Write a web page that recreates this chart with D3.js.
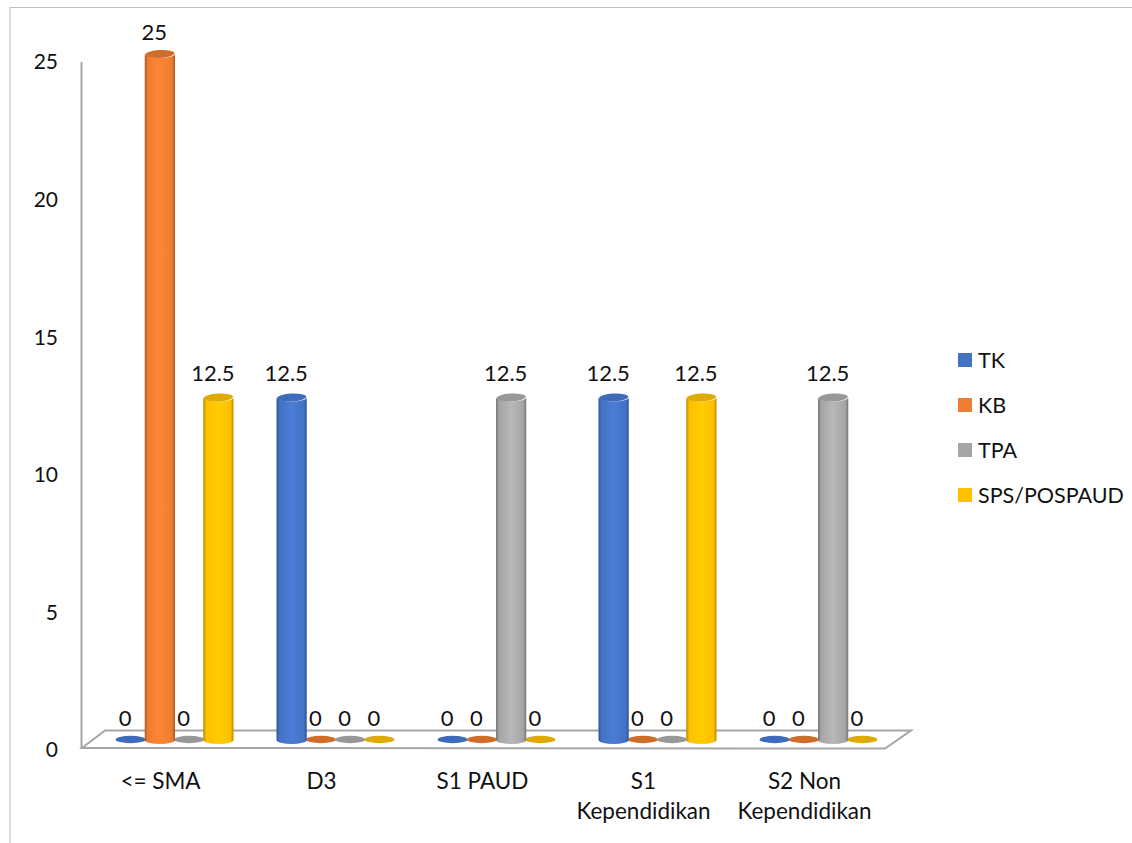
<!DOCTYPE html>
<html><head><meta charset="utf-8">
<script src="https://cdnjs.cloudflare.com/ajax/libs/d3/7.8.5/d3.min.js"></script>
<style>html,body{margin:0;padding:0;background:#fff}svg{display:block}text{font-family:Lato,"Noto Sans",sans-serif;fill:#111}</style>
</head><body><svg id="c" width="1132" height="843"></svg>
<script>
const categories=[["<= SMA"],["D3"],["S1 PAUD"],["S1","Kependidikan"],["S2 Non","Kependidikan"]];
const seriesNames=["TK","KB","TPA","SPS/POSPAUD"];
const TK=[0,12.5,0,12.5,0];
const KB=[25,0,0,0,0];
const TPA=[0,0,12.5,0,12.5];
const SPS=[12.5,0,0,12.5,0];
const yTicks=[0,5,10,15,20,25];
const seriesValues=[TK,KB,TPA,SPS];
const colors=["#4472c4","#ed7d31","#a5a5a5","#ffc000"];
const lights=["#4a7dd6","#ff8633","#b8b8b8","#ffcc00"];
const darks=["#2f5597","#a9581f","#757575","#b88a00"];
const tops=["#3f6bbb","#cf6d2b","#989898","#e0aa05"];

const svg=d3.select("#c");
const defs=svg.append("defs");
colors.forEach((c,i)=>{
  const g=defs.append("linearGradient").attr("id","g"+i);
  [[0,darks[i]],[.1,c],[.5,lights[i]],[.9,c],[1,darks[i]]].forEach(([o,k])=>g.append("stop").attr("offset",o).attr("stop-color",k));
});
const x0=d3.scaleBand().domain(d3.range(categories.length)).range([80,885]);
const x1=d3.scaleBand().domain(d3.range(seriesNames.length)).range([36,153]);
const y=d3.scaleLinear().domain([0,25]).range([741,54]);
const yLab=d3.scaleLinear().domain([0,25]).range([750,62]);

svg.append("path").attr("d","M10,843V7.5H1132").attr("fill","none").attr("stroke","#bfbfbf").attr("stroke-width",1);

const floor=[[82,748],[105,730.5],[911,730.5],[885,748.5]];
svg.append("polygon").attr("points",floor.join(" ")).attr("fill","#fff").attr("stroke","#a6a6a6").attr("stroke-width",2);
svg.append("line").attr("x1",81.5).attr("x2",81.5).attr("y1",62).attr("y2",748).attr("stroke","#a6a6a6").attr("stroke-width",2);

svg.append("g").selectAll("text").data(yTicks).join("text")
  .attr("x",58).attr("y",d=>yLab(d)).attr("dy","0.35em").attr("text-anchor","end").attr("font-size",21).text(d=>d);

const rx=x1.bandwidth()/2+0.5, ry=4;
seriesNames.forEach((s,i)=>{
  const g=svg.append("g");
  const cx=k=>x0(k)+x1(i)+x1.bandwidth()/2;
  const vals=seriesValues[i];
  const idx=d3.range(vals.length);
  g.selectAll("ellipse.flat").data(idx.filter(k=>vals[k]===0)).join("ellipse").attr("class","flat")
    .attr("cx",cx).attr("cy",y(0)-1.5).attr("rx",rx).attr("ry",3.7).attr("fill",tops[i]);
});
seriesNames.forEach((s,i)=>{
  const g=svg.append("g");
  const cx=k=>x0(k)+x1(i)+x1.bandwidth()/2;
  const vals=seriesValues[i];
  const idx=d3.range(vals.length);
  g.selectAll("path.cyl").data(idx.filter(k=>vals[k]>0)).join("path").attr("class","cyl")
    .attr("d",k=>{const t=y(vals[k]),b=y(0)-1,c=cx(k);
      return `M${c-rx},${t}V${b}A${rx},${ry} 0 0 0 ${c+rx},${b}V${t}A${rx},${ry} 0 0 1 ${c-rx},${t}Z`;})
    .attr("fill",`url(#g${i})`);
  g.selectAll("ellipse.top").data(idx.filter(k=>vals[k]>0)).join("ellipse").attr("class","top")
    .attr("cx",cx).attr("cy",k=>y(vals[k])).attr("rx",rx-.5).attr("ry",ry)
    .attr("transform",k=>`rotate(-3 ${cx(k)} ${y(vals[k])})`).attr("fill",tops[i]);
});
seriesNames.forEach((s,i)=>{
  const vals=seriesValues[i];
  svg.append("g").selectAll("text").data(vals.map((v,k)=>({v,k}))).join("text")
    .attr("x",d=>x0(d.k)+x1(i)+x1.bandwidth()/2-5.5)
    .attr("y",d=>d.v===25?32:y(d.v)-24+(d.v===0?1:0))
    .attr("dy","0.35em").attr("text-anchor","middle").attr("font-size",22).text(d=>d.v);
});
const catG=svg.append("g").selectAll("text").data(categories).join("text")
  .attr("text-anchor","middle").attr("font-size",22.5);
catG.each(function(lines,k){
  d3.select(this).selectAll("tspan").data(lines).join("tspan")
    .attr("x",x0(k)+x0.bandwidth()/2).attr("y",(d,j)=>789+j*30).text(d=>d);
});
const leg=d3.scalePoint().domain(seriesNames).range([360,495]);
const lg=svg.append("g").selectAll("g").data(seriesNames).join("g");
lg.append("rect").attr("x",958).attr("y",d=>leg(d)-7).attr("width",14).attr("height",14).attr("fill",(d,i)=>colors[i]);
lg.append("text").attr("x",978).attr("y",d=>leg(d)).attr("dy","0.35em").attr("font-size",21.5).text(d=>d);
</script></body></html>
